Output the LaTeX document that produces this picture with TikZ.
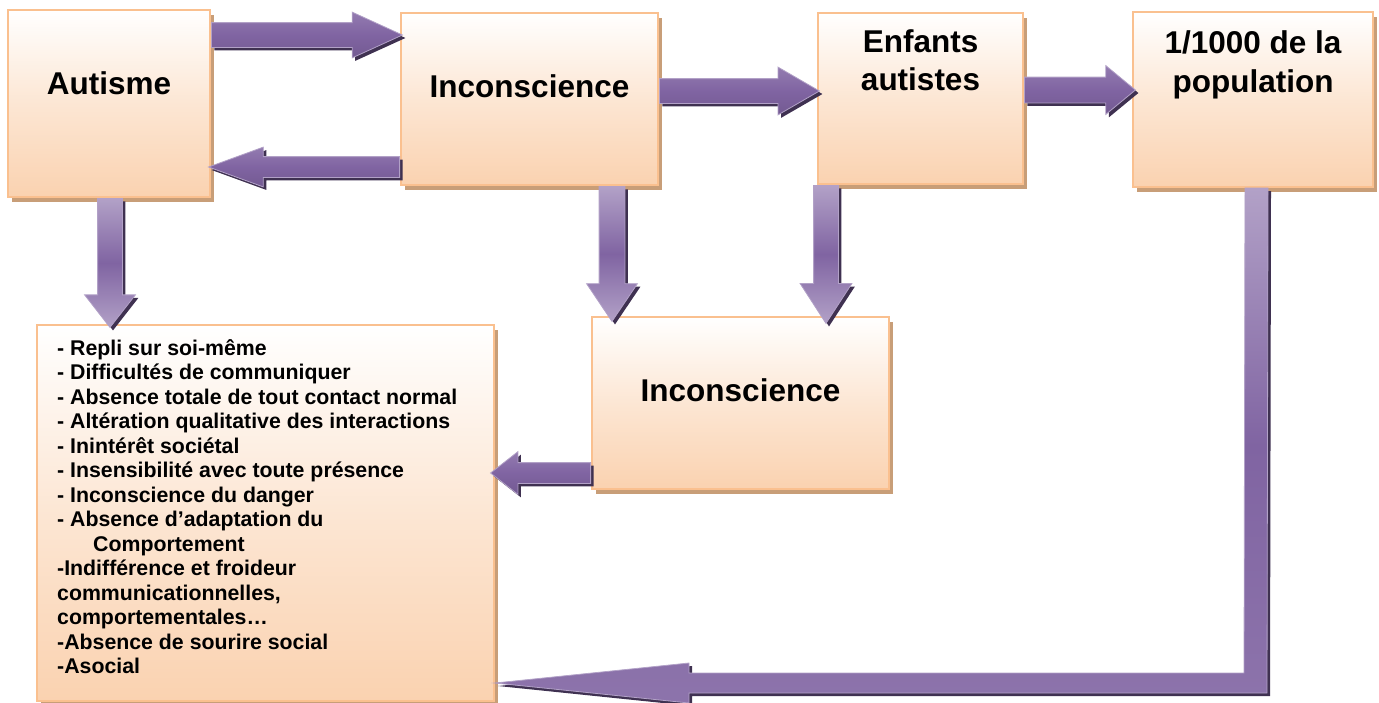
\documentclass[tikz,border=0pt]{standalone}
\usepackage{fontspec}
\setmainfont{Liberation Sans}
\usetikzlibrary{positioning,shapes.arrows,shadows}

\definecolor{boxedge}{RGB}{250,192,143}
\definecolor{boxpeach}{RGB}{250,210,176}
\definecolor{boxshade}{RGB}{200,158,120}
\definecolor{arrowpurple}{RGB}{128,100,162}
\definecolor{arrowlight}{RGB}{178,161,199}
\definecolor{arrowdark}{RGB}{63,49,81}

\begin{document}
\begin{tikzpicture}[
    x=1pt, y=-1pt,
    box/.style={
        draw=boxedge,
        line width=2pt,
        rectangle,
        anchor=north west,
        inner sep=0pt,
        top color=white,
        bottom color=boxpeach,
        middle color=boxpeach!55,
        drop shadow={shadow xshift=4pt, shadow yshift=-5pt, fill=boxshade, opacity=1}
    },
    title/.style={
        font=\bfseries\fontsize{31.5}{38.5}\selectfont,
        align=center
    },
    liste/.style={
        font=\bfseries\fontsize{21.3}{24.5}\selectfont,
        align=left,
        anchor=north west,
        inner sep=0pt
    },
    harrow/.style={
        single arrow,
        draw=arrowlight,
        line width=0.8pt,
        top color=arrowpurple!85!white,
        bottom color=arrowpurple!90!black,
        middle color=arrowpurple,
        drop shadow={shadow xshift=3pt, shadow yshift=-3pt, fill=arrowdark, opacity=1}
    },
    varrow/.style={
        single arrow,
        shape border rotate=270,
        draw=arrowlight,
        line width=0.8pt,
        top color=arrowlight,
        bottom color=arrowlight,
        middle color=arrowpurple,
        drop shadow={shadow xshift=3pt, shadow yshift=-3pt, fill=arrowdark, opacity=1}
    },
    bentarrow/.style={
        draw=arrowlight,
        line width=0.8pt,
        top color=arrowlight,
        bottom color=arrowpurple!90!white,
        middle color=arrowpurple,
        drop shadow={shadow xshift=3pt, shadow yshift=-3pt, fill=arrowdark, opacity=1}
    }
]
\useasboundingbox (0,0) rectangle (1379,702);

% Boxes
\node[box, minimum width=202pt, minimum height=187pt] (autisme) at (7,9) {};
\node[box, minimum width=257pt, minimum height=172pt] (incons) at (400,12) {};
\node[box, minimum width=205pt, minimum height=171pt] (enfants) at (817,12) {};
\node[box, minimum width=240pt, minimum height=175pt] (popul) at (1132,11) {};
\node[box, minimum width=297pt, minimum height=172pt] (inconsbas) at (591,316) {};
\node[box, minimum width=457pt, minimum height=376pt] (symptomes) at (36,324) {};

% Texts
\node[title] (autismetext) at ([yshift=-74pt]autisme.north) {Autisme};
\node[title] (inconstext) at ([yshift=-74pt]incons.north) {Inconscience};
\node[title] (enfantstext) at ([yshift=-48pt]enfants.north) {Enfants\\autistes};
\node[title] (popultext) at ([yshift=-54pt]popul.north) {1/1000 de la\\population};
\node[title] (inconsbastext) at ([yshift=-74pt]inconsbas.north) {Inconscience};
\node[liste] (symptext) at (57,339) {%
- Repli sur soi-même\\
- Difficultés de communiquer\\
- Absence totale de tout contact normal\\
- Altération qualitative des interactions\\
- Inintérêt sociétal\\
- Insensibilité avec toute présence\\
- Inconscience du danger\\
- Absence d’adaptation du\\
\hspace*{36pt}Comportement\\
-Indifférence et froideur\\
communicationnelles,\\
comportementales…\\
-Absence de sourire social\\
-Asocial};

% Arrows between the top boxes
\node[harrow, inner sep=12pt, minimum height=191pt, minimum width=45pt, single arrow head extend=10.5pt,
    single arrow tip angle=49, anchor=tail] (a1) at (autisme.east |- 0,35) {};
\node[harrow, shape border rotate=180, inner sep=10pt, minimum height=191pt, minimum width=39pt,
    single arrow head extend=9.5pt, single arrow tip angle=40, anchor=tail] (a2) at (incons.west |- 0,167) {};
\node[harrow, inner sep=12pt, minimum height=160pt, minimum width=47pt, single arrow head extend=11.5pt,
    single arrow tip angle=60, anchor=tail] (a3) at (incons.east |- 0,91) {};
\node[harrow, inner sep=12.5pt, minimum height=111pt, minimum width=48pt, single arrow head extend=11.5pt,
    single arrow tip angle=79, anchor=tail] (a4) at (enfants.east |- 0,90) {};

% Arrows going down
\node[varrow, inner sep=12pt, minimum height=129pt, minimum width=50pt, single arrow head extend=13pt,
    single arrow tip angle=76, anchor=tail] (a5) at (autisme.south -| 110,0) {};
\node[varrow, inner sep=12.5pt, minimum height=135pt, minimum width=50pt, single arrow head extend=12.5pt,
    single arrow tip angle=68, anchor=tail] (a6) at (incons.south -| 612,0) {};
\node[varrow, inner sep=12pt, minimum height=138pt, minimum width=51pt, single arrow head extend=13.5pt,
    single arrow tip angle=66, anchor=tail] (a7) at (enfants.south -| 826,0) {};

% Lower box to the list
\node[harrow, shape border rotate=180, inner sep=10pt, minimum height=100pt, minimum width=42pt,
    single arrow head extend=11pt, single arrow tip angle=76, anchor=tail] (a8) at (inconsbas.west |- 0,473) {};

% Long bent arrow back to the list
\draw[bentarrow] ([xshift=-8pt]popul.south) -- ++(23,0) -- (1267,693) -- (689,693) -- (689,703)
    -- (symptomes.east |- 0,683) -- (689,663) -- (689,673) -- (1244,673) -- cycle;

\end{tikzpicture}
\end{document}
